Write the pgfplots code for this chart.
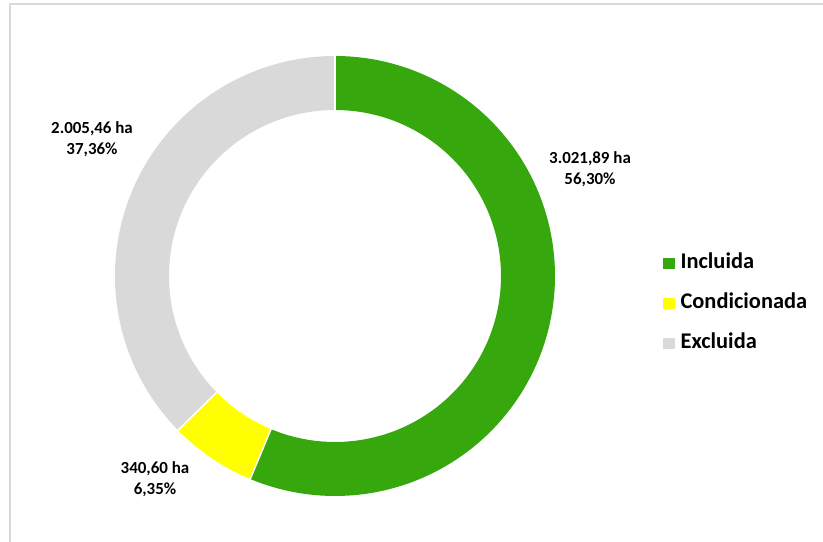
\documentclass[border=0pt]{standalone}
\usepackage{pgfplots}
\pgfplotsset{compat=1.18}
\usepgfplotslibrary{polar}
\usepackage{fontspec}
\setmainfont{Carlito}
\definecolor{cInc}{HTML}{36A80E}
\definecolor{cCon}{HTML}{FFFF00}
\definecolor{cExc}{HTML}{D9D9D9}
\begin{document}
\begin{tikzpicture}[x=1bp,y=1bp]
\useasboundingbox (0,0) rectangle (823,542);
\draw[cExc, line width=1.2bp] (10,0) -- (10,538) -- (823,538);
% data (ha)
\pgfmathsetmacro{\vA}{3021.89}
\pgfmathsetmacro{\vB}{340.60}
\pgfmathsetmacro{\vC}{2005.46}
\pgfmathsetmacro{\tot}{\vA+\vB+\vC}
\pgfmathsetmacro{\aA}{90}
\pgfmathsetmacro{\aB}{90-360*(\vA/\tot)}
\pgfmathsetmacro{\aC}{\aB-360*(\vB/\tot)}
\pgfmathsetmacro{\aD}{\aC-360*(\vC/\tot)}
\begin{polaraxis}[at={(335bp,266bp)}, anchor=center, scale only axis,
  width=440bp, height=440bp, ymin=0, ymax=220, hide axis, clip=false,
  legend style={at={(axis description cs:1.2386,0.4385)}, anchor=west, draw=none, fill=none,
    font=\bfseries\fontsize{22.5}{26}\selectfont, row sep=19bp,
    nodes={inner sep=1bp, text height=15bp, text depth=4bp}},
  legend cell align=left]
\addplot[cInc, line width=54bp, domain=\aB:\aA, samples=150, no markers, forget plot] {193};
\addplot[cCon, line width=54bp, domain=\aC:\aB, samples=40, no markers, forget plot] {193};
\addplot[cExc, line width=54bp, domain=\aD:\aC, samples=150, no markers, forget plot] {193};
\addplot[white, line width=1.5bp, no markers, forget plot] coordinates {(\aA,165) (\aA,221)};
\addplot[white, line width=1.5bp, no markers, forget plot] coordinates {(\aB,165) (\aB,221)};
\addplot[white, line width=1.5bp, no markers, forget plot] coordinates {(\aC,165) (\aC,221)};
\addlegendimage{legend image code/.code={\fill[cInc] (0bp,-5bp) rectangle (11bp,5bp); \path (16bp,0bp);}}
\addlegendentry{Incluida}
\addlegendimage{legend image code/.code={\fill[cCon] (0bp,-5bp) rectangle (11bp,5bp); \path (16bp,0bp);}}
\addlegendentry{Condicionada}
\addlegendimage{legend image code/.code={\fill[cExc] (0bp,-5bp) rectangle (11bp,5bp); \path (16bp,0bp);}}
\addlegendentry{Excluida}
\end{polaraxis}
\begin{scope}[every node/.style={align=center, font=\bfseries\fontsize{17}{21.5}\selectfont, inner sep=0pt}]
\node at (590,373) {3.021,89 ha\\56,30\%};
\node at (92,403) {2.005,46 ha\\37,36\%};
\node at (155,63) {340,60 ha\\6,35\%};
\end{scope}
\end{tikzpicture}
\end{document}
